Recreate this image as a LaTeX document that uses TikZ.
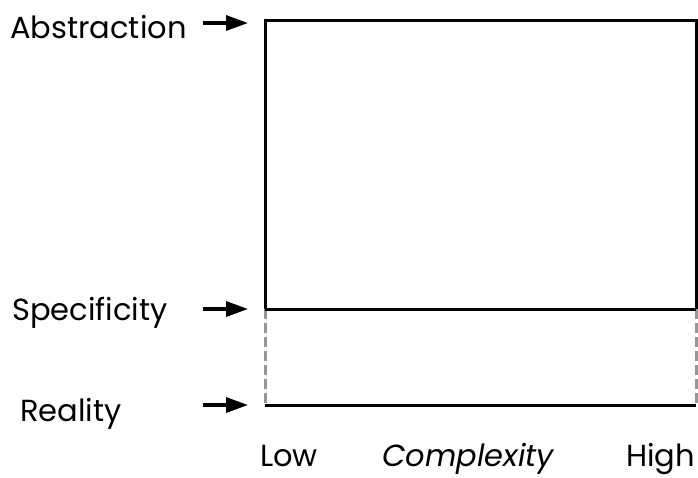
\documentclass[tikz,border=0pt]{standalone}
\usepackage{fontspec}
\setmainfont{Poppins}
\usepackage{tikz}
\usetikzlibrary{arrows,arrows.meta}

\begin{document}
\begin{tikzpicture}[line cap=butt,line join=miter,>={Triangle[length=22pt,width=15pt]},x=1pt,y=-1pt]
        \tikzset{lbl/.style={font=\fontsize{30.5}{36}\selectfont,inner sep=0pt},
                 pointer/.style={->,line width=3.2pt},
                 edge/.style={line width=3pt,black},
                 dashedge/.style={line width=3pt,color={rgb,255:red,150;green,150;blue,150},dash pattern=on 10pt off 4pt}}
        \useasboundingbox (0,0) rectangle (698,477);
        % corners of the box
        \coordinate (tl) at (265,20);
        \coordinate (tr) at (696,20);
        \coordinate (ml) at (265,309);
        \coordinate (mr) at (696,309);
        \coordinate (bl) at (265,405);
        \coordinate (br) at (696,405);
        % labels
        \node[lbl,anchor=base west] (abs) at (10,38) {Abstraction};
        \node[lbl,anchor=base west] (spec) at (12,320) {Specificity};
        \node[lbl,anchor=base west] (real) at (20,421) {Reality};
        \node[lbl,anchor=base west] (low) at (260,466) {Low};
        \node[lbl,anchor=base] (cx) at (468,466) {\itshape Complexity};
        \node[lbl,anchor=base east] (high) at (695,466) {High};
        % arrow tails
        \coordinate (a1) at (203,23);
        \coordinate (a2) at (203,309);
        \coordinate (a3) at (203,405);
        \draw [pointer] (a1) -- (248,23);
        \draw [pointer] (a2) -- (248,309);
        \draw [pointer] (a3) -- (248,405);
        % box
        \draw [dashedge] (ml) -- (bl);
        \draw [dashedge] (mr) -- (br);
        \draw [edge] (ml) -- (tl) -- (tr) -- (mr);
        \draw [edge] (ml) -- (mr);
        \draw [edge] (bl) -- (br);
\end{tikzpicture}
\end{document}
